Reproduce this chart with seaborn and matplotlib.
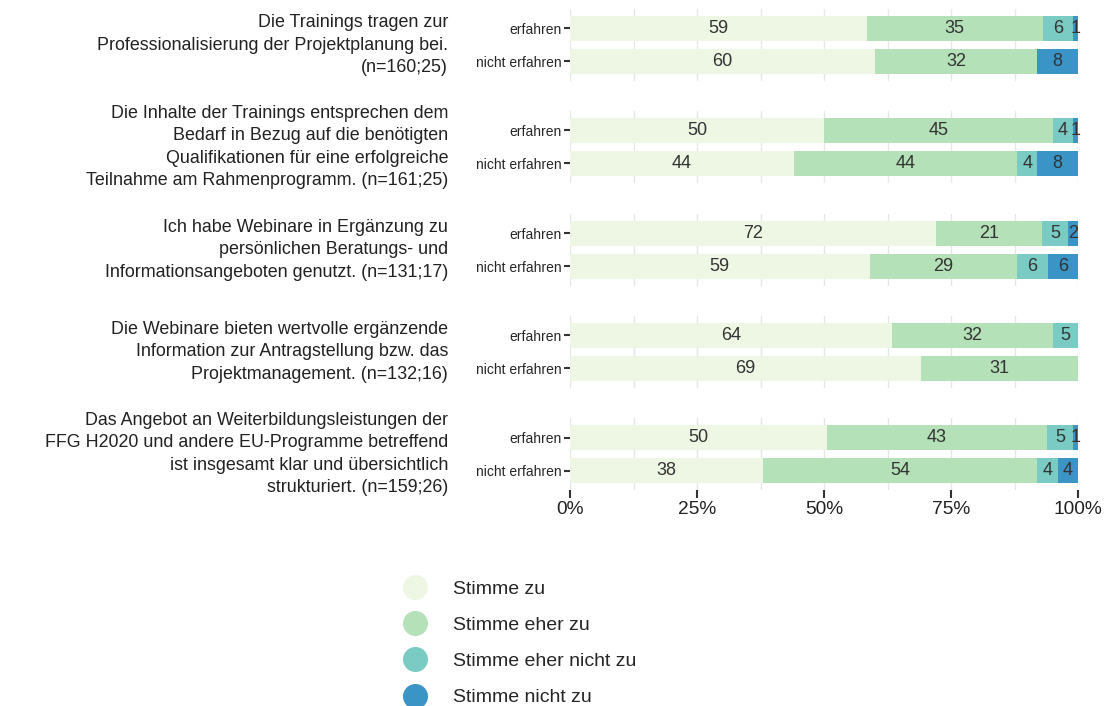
import pandas as pd
import matplotlib.pyplot as plt
from matplotlib.lines import Line2D
import numpy as np
import seaborn as sns

# Statements (facet labels), groups and answer categories
statements = [
    "Die Trainings tragen zur\nProfessionalisierung der Projektplanung bei.\n(n=160;25)",
    "Die Inhalte der Trainings entsprechen dem\nBedarf in Bezug auf die benötigten\nQualifikationen für eine erfolgreiche\nTeilnahme am Rahmenprogramm. (n=161;25)",
    "Ich habe Webinare in Ergänzung zu\npersönlichen Beratungs- und\nInformationsangeboten genutzt. (n=131;17)",
    "Die Webinare bieten wertvolle ergänzende\nInformation zur Antragstellung bzw. das\nProjektmanagement. (n=132;16)",
    "Das Angebot an Weiterbildungsleistungen der\nFFG H2020 und andere EU-Programme betreffend\nist insgesamt klar und übersichtlich\nstrukturiert. (n=159;26)",
]
groups = ["erfahren", "nicht erfahren"]
categories = ["Stimme zu", "Stimme eher zu", "Stimme eher nicht zu", "Stimme nicht zu"]
colors = ["#eef7e4", "#b5e1b9", "#7acbc3", "#3a94c6"]

# Percent values per statement: erfahren / nicht erfahren
stimme_zu = [[59, 60], [50, 44], [72, 59], [64, 69], [50, 38]]
stimme_eher_zu = [[35, 32], [45, 44], [21, 29], [32, 31], [43, 54]]
stimme_eher_nicht_zu = [[6, 0], [4, 4], [5, 6], [5, 0], [5, 4]]
stimme_nicht_zu = [[1, 8], [1, 8], [2, 6], [0, 0], [1, 4]]
series = [stimme_zu, stimme_eher_zu, stimme_eher_nicht_zu, stimme_nicht_zu]

sns.set_theme(style="white")
plt.rcParams['font.family'] = ['Liberation Sans', 'DejaVu Sans']

W, H = 1107, 706
fig = plt.figure(figsize=(W / 100, H / 100), dpi=100)

x0, x1 = 570, 1078
panel_centers = [45, 147, 250, 352, 454]
panel_h = 72.6

for i, stmt in enumerate(statements):
    top = panel_centers[i] - panel_h / 2
    ax = fig.add_axes([x0 / W, 1 - (top + panel_h) / H, (x1 - x0) / W, panel_h / H])
    vals = np.array([[series[c][i][g] for c in range(4)] for g in range(2)], dtype=float)
    pct = vals / vals.sum(axis=1, keepdims=True) * 100
    cum = np.cumsum(pct, axis=1)
    df = pd.DataFrame(cum, columns=categories)
    df["group"] = groups

    # grid lines beneath bars
    for gx in np.arange(0, 101, 12.5):
        ax.axvline(gx, color="#e6e6e6", lw=1, zorder=0)

    for c in reversed(range(4)):
        sns.barplot(data=df, x=categories[c], y="group", color=colors[c],
                    width=0.73, saturation=1, linewidth=0, ax=ax, zorder=2)

    for g in range(2):
        start = 0
        for c in range(4):
            if vals[g, c] > 0:
                ax.text(start + pct[g, c] / 2, g, f"{int(vals[g, c])}",
                        ha="center", va="center", fontsize=13, color="#333333", zorder=3)
            start += pct[g, c]

    ax.set_xlim(0, 100)
    ax.set_ylim(1.6, -0.6)
    ax.set_xlabel("")
    ax.set_ylabel("")
    for s in ax.spines.values():
        s.set_visible(False)
    ax.tick_params(axis="y", length=4, width=1.5, color="#333333", labelsize=10, pad=2, left=True)
    if i == len(statements) - 1:
        ax.set_xticks([0, 25, 50, 75, 100])
        ax.set_xticklabels(["0%", "25%", "50%", "75%", "100%"])
        ax.tick_params(axis="x", length=6, width=1.5, color="#333333", labelsize=13.8,
                       labelcolor="#222222", bottom=True, pad=2)
    else:
        ax.set_xticks([])

    fig.text(448 / W, 1 - panel_centers[i] / H, stmt, ha="right", va="center",
             fontsize=12.9, linespacing=1.43, color="#222222")

handles = [Line2D([], [], marker="o", linestyle="", markersize=17,
                  markerfacecolor=col, markeredgecolor=col) for col in colors]
fig.legend(handles, categories, loc="upper left", bbox_to_anchor=(383 / W, 1 - 563 / H),
           frameon=False, fontsize=14, labelspacing=0.95, handletextpad=1.2,
           handlelength=1.5)

plt.savefig("out.png", dpi=100)
